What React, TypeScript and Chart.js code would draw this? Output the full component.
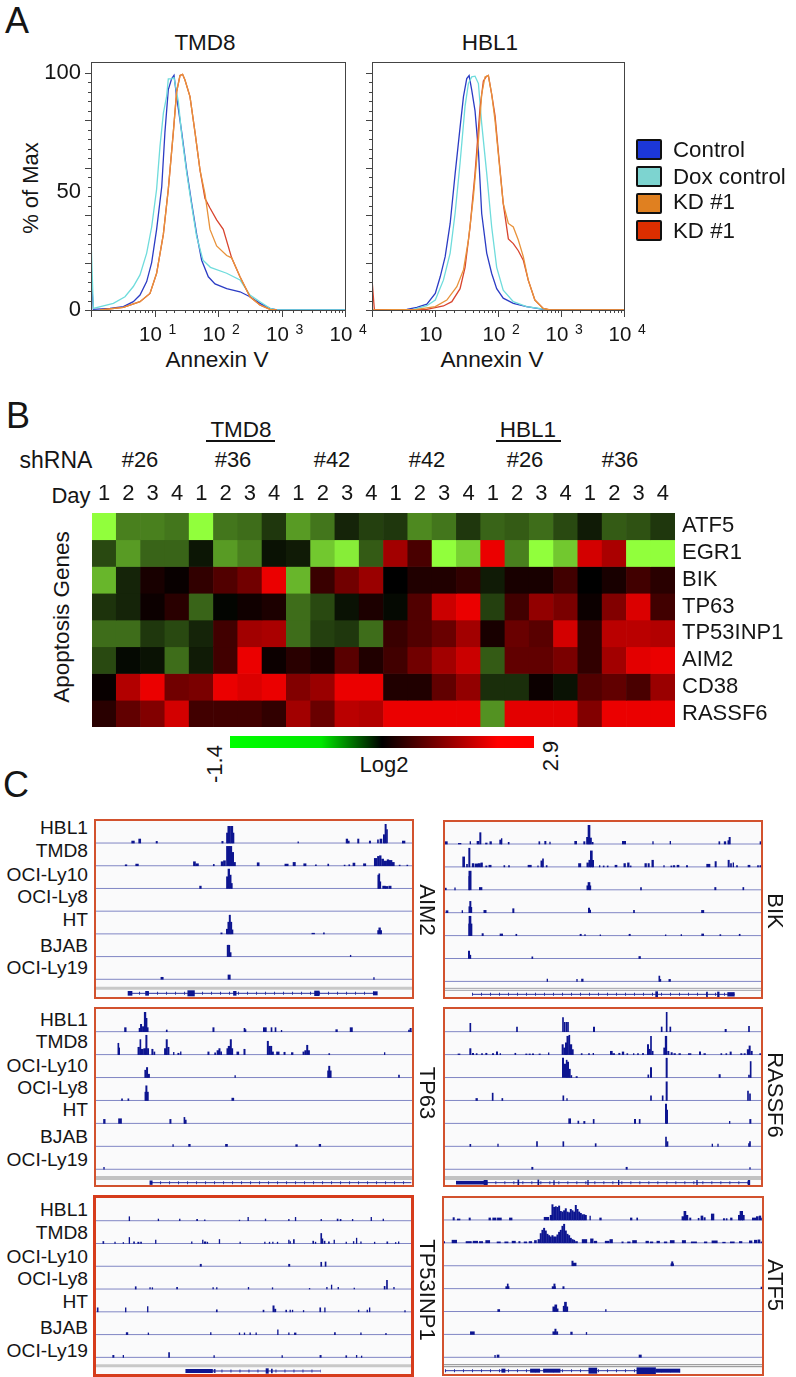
import React, { useEffect, useRef } from "react";
import { Chart, registerables } from "chart.js";

Chart.register(...registerables);

type Pt = number[];
const FONT = "'Liberation Sans', Arial, sans-serif";

/* ---------- Panel A: flow histograms, [Annexin V, % of max] ---------- */
const tmd8Control: Pt[] = [[1,16],[1.09,0.3],[1.99,0.7],[3.23,1.4],[4.64,3.5],[5.91,6.3],[7.53,12],[9.02,20],[10.8,34],[13,52],[14.6,75],[16.5,93],[18.6,97.5],[20.3,99],[22.3,90],[26.8,75],[32.1,59],[38.5,45],[46.1,32],[55.3,21],[70.4,14],[89.7,11],[137,9],[222,7.7],[319,5.6],[458,2.8],[659,0.7],[839,0],[10000,0]];
const tmd8Dox: Pt[] = [[1,30],[1.09,0.7],[2.25,2.8],[3.43,5.6],[4.64,9.9],[5.91,14.8],[7.53,24],[9.02,35],[10.8,51],[12.2,69],[13.8,83],[15.5,90],[16.5,97.5],[18.6,97.5],[20.3,98],[23.7,88],[26.8,74],[32.1,58],[38.5,44],[46.1,31],[58,21],[76,18],[137,15.5],[222,12.7],[319,6.3],[458,3.5],[659,0.7],[839,0],[10000,0]];
const tmd8KdA: Pt[] = [[1.39,0],[3.23,1.1],[5.91,3.5],[8.49,7],[10.8,15.5],[13.8,32],[16.5,51],[19.8,75],[22.3,92],[25.2,98.9],[27.7,99.4],[30.2,97],[36.2,90],[43.4,75],[52.1,59],[62.4,49],[74.8,34],[95.2,27],[137,23],[164,22],[222,14],[319,5.6],[458,2.1],[659,0.3],[839,0]];
const tmd8KdB: Pt[] = [[1.39,0],[3.23,1.1],[5.91,3.5],[8.49,7],[10.8,15.5],[13.8,32],[16.5,51],[19.8,75],[22.3,92],[25.2,98.9],[27.7,99.4],[30.2,97],[36.2,90],[43.4,75],[52.1,59],[62.4,47],[74.8,43],[95.2,38],[121,34],[164,22],[222,14],[319,5.6],[458,2.1],[659,0.3],[839,0]];
const hbl1Control: Pt[] = [[1,0.2],[3.58,0.3],[5.15,1.1],[7.43,2.5],[10.1,7],[12.1,14],[14.5,22.5],[17.4,36.5],[20.9,57.6],[25,77],[28.3,90],[31.9,97.6],[34.8,98.9],[38.3,92.7],[43.2,84],[48.9,67],[55.1,40.7],[66.2,24],[79.4,15.4],[95.3,9],[121,5],[175,2.8],[284,1.4],[522,0.3],[10000,0.1]];
const hbl1Dox: Pt[] = [[1,0.1],[4.57,0.3],[7.43,1.8],[10.1,4.2],[13.6,12.6],[17.4,24],[20.9,41],[25,62],[30,86],[33.9,95.5],[38.3,98.3],[43.2,98.6],[48.9,95.5],[55.1,78.6],[66.2,57.6],[79.4,35],[95.3,18],[121,8.4],[175,3.5],[284,1.4],[660,0],[10000,0]];
const hbl1KdA: Pt[] = [[1,0],[5.15,0.3],[10.1,1.4],[15.4,4.2],[22.2,9.8],[28.3,16.9],[33.9,29.5],[40.7,47.8],[48.9,71.6],[55.1,91],[62.2,98.3],[70.3,98.9],[79.4,91],[89.7,80],[101,66],[121,45],[146,36.5],[175,35],[210,29.5],[252,22.5],[302,12.6],[385,4.2],[522,0.7],[666,0],[10000,0]];
const hbl1KdB: Pt[] = [[1,13],[1.09,0.2],[7.43,0.3],[13.6,1.7],[18.5,3.5],[25,9],[30,18],[36,35],[43.2,57.6],[51.9,85.4],[58.6,96.6],[66.2,98.6],[70.3,98.9],[79.4,91],[89.7,82],[101,67],[121,45],[146,30],[175,28],[210,25],[252,21],[302,12.6],[385,4.2],[522,0.7],[666,0],[10000,0]];
const flowSeriesNames = ["KD #1 (a)", "KD #1 (b)", "Dox control", "Control"];
const legendNames = ["Control", "Dox control", "KD #1", "KD #1"];
const legendColors = ["#1c37d8", "#7dd4d0", "#e08020", "#dc2e00"];
const flowYTicks = [0,4,8,12,16,20,24,28,32,36,40,44,48,50,52,56,60,64,68,72,76,80,84,88,92,96,100];
const flowYLabels = [0, 50, 100];

/* ---------- Panel B: heat map, log2 expression ---------- */
const dayLabels = ["1","2","3","4","1","2","3","4","1","2","3","4","1","2","3","4","1","2","3","4","1","2","3","4"];
const geneNames = ["ATF5","EGR1","BIK","TP63","TP53INP1","AIM2","CD38","RASSF6"];
const atf5 = [-1.4,-0.7,-0.7,-0.65,-1.4,-0.65,-0.6,-0.3,-0.85,-0.65,-0.2,-0.35,-0.3,-0.75,-0.65,-0.3,-0.55,-0.5,-0.6,-0.4,-0.15,-0.5,-0.45,-0.3];
const egr1 = [-0.4,-0.85,-0.55,-0.55,-0.12,-0.85,-0.7,-0.1,-0.15,-1.1,-1.3,-0.5,2.0,0.9,-1.4,-1.15,2.9,-0.7,-1.4,-1.1,2.6,2.1,-1.4,-1.4];
const bik = [-1.0,-0.2,0.3,0.1,0.6,1.0,1.4,2.9,-1.0,0.7,1.4,1.9,0,0.4,0.4,0.6,-0.15,0.3,0.3,0.8,0,0.3,0.8,0.5];
const tp63 = [-0.28,-0.2,0.15,0.5,-0.55,-0.03,0.2,0.35,-0.6,-0.4,-0.1,0.35,-0.05,1.0,2.5,2.9,-0.35,0.8,1.8,1.5,0.15,1.6,2.7,0.8];
const tp53inp1 = [-0.6,-0.6,-0.3,-0.4,-0.2,0.8,2.0,2.1,-0.6,-0.35,-0.3,-0.6,0.7,1.0,1.3,2.0,0.3,1.3,1.1,2.6,0.6,2.3,2.3,2.2];
const aim2 = [-0.4,-0.05,-0.1,-0.6,-0.15,0.8,2.9,0.15,0.5,0.3,1.1,0.4,0.8,1.4,2.0,2.5,-0.5,1.2,1.2,1.5,0.6,2.0,2.8,2.9];
const cd38 = [0.1,2.2,2.9,1.4,1.5,2.9,2.7,2.9,1.6,1.9,2.9,2.9,0.4,0.4,1.2,1.8,-0.25,-0.25,0.15,-0.1,1.0,1.2,0.9,1.9];
const rassf6 = [0.5,1.2,1.6,2.6,0.8,0.8,0.8,0.6,2.0,1.3,2.3,2.2,2.9,2.9,2.9,2.9,-0.8,2.8,2.8,2.8,1.6,2.9,2.9,2.9];
const heatRows = [atf5, egr1, bik, tp63, tp53inp1, aim2, cd38, rassf6];
const colorRange = [-1.4, 2.9];

/* ---------- Panel C: read-depth tracks, [position, height, width] ---------- */
const trackNames = ["HBL1","TMD8","OCI-Ly10","OCI-Ly8","HT","BJAB","OCI-Ly19"];
const aim2Tracks: Pt[][] = [
  [[398,6,8],[418,12,6],[469,5,4],[666,5,4],[680,30,4],[686,50,8],[694,50,6],[699,30,3],[893,4,2],[1039,12,5],[1044,6,4],[1073,12,4],[1108,6,4],[1132,10,3],[1141,12,6],[1150,25,4],[1155,56,4],[1159,40,3],[1209,6,8]],
  [[377,3,5],[410,5,8],[582,12,6],[590,6,8],[640,4,3],[665,12,6],[672,15,6],[682,58,8],[690,58,8],[697,40,5],[703,10,4],[773,9,6],[858,5,10],[881,10,7],[913,6,7],[946,3,3],[983,5,3],[1032,2,3],[1046,3,3],[1060,8,6],[1092,6,7],[1125,22,8],[1133,28,5],[1139,30,5],[1146,20,6],[1154,14,8],[1162,18,5],[1170,16,8],[1178,10,6],[1197,2,3],[1220,2,3]],
  [[600,7,5],[680,35,4],[685,58,5],[690,40,4],[694,15,3],[1133,40,3],[1136,44,3],[1139,20,3],[1150,7,8],[1158,6,8],[1168,7,7]],
  [],
  [[663,3,4],[680,14,5],[684,35,4],[688,56,4],[692,35,4],[696,12,3],[938,2,8],[970,3,3],[1133,10,4],[1137,18,5],[1141,10,4]],
  [[682,34,4],[686,34,4],[690,12,4],[1050,4,2]],
  [[485,6,7],[686,13,7],[1120,5,2]],
];
const bikTracks: Pt[][] = [
  [[50,7,6],[90,2,8],[122,7,2],[145,8,6],[152,34,4],[170,3,5],[183,7,5],[213,12,6],[216,16,2],[237,5,3],[329,7,3],[347,8,4],[361,6,2],[438,8,6],[464,7,4],[473,20,5],[478,56,6],[483,18,5],[489,5,3],[583,8,10],[670,7,2],[722,8,2],[869,7,3],[886,7,5],[896,10,3],[900,20,4],[993,7,4]],
  [[102,30,6],[112,8,3],[119,56,4],[130,10,5],[140,9,8],[149,10,7],[156,12,5],[170,3,4],[181,5,7],[224,4,3],[238,4,3],[300,5,10],[325,3,2],[336,18,5],[340,24,3],[351,4,3],[450,10,7],[474,12,5],[480,20,5],[485,48,6],[490,20,4],[510,4,2],[522,3,3],[534,3,3],[559,5,6],[585,10,5],[596,12,5],[603,3,3],[648,10,5],[657,10,4],[669,20,5],[703,4,2],[725,3,3],[733,4,5],[745,5,6],[772,4,4],[836,8,10],[858,16,4],[897,20,4],[904,10,3],[911,12,2],[922,4,3],[958,5,6],[985,4,3],[992,4,3]],
  [[48,5,4],[76,6,2],[119,40,3],[121,56,7],[153,7,8],[473,12,3],[478,22,6],[482,12,3],[634,7,3],[857,7,4],[941,7,3]],
  [[52,6,6],[98,6,2],[120,18,5],[122,34,4],[125,16,3],[166,7,7],[251,12,4],[478,14,4],[481,8,4],[613,7,3],[819,7,7]],
  [[120,35,6],[121,58,6],[125,35,4],[159,6,4],[215,5,8],[260,4,3],[453,4,4],[466,3,2],[512,2,2],[600,4,4],[708,2,2],[755,3,2],[819,5,6],[872,3,3],[930,4,3]],
  [[118,22,4],[122,10,3],[308,5,3],[630,6,5]],
  [[353,7,2],[442,6,2],[458,7,5],[689,16,3],[692,6,3],[720,6,5]],
];
const tp63Tracks: Pt[][] = [
  [[375,12,5],[418,10,4],[422,22,4],[428,15,4],[434,58,5],[438,40,4],[442,12,3],[499,5,3],[639,12,4],[732,10,3],[735,6,3],[793,12,9],[813,12,3],[825,12,3],[843,4,2],[1008,6,5],[1052,12,7],[1225,5,3],[1230,10,4]],
  [[354,34,3],[356,20,4],[415,22,5],[420,45,3],[425,16,8],[433,18,6],[438,58,4],[443,18,4],[456,16,4],[462,8,3],[495,18,6],[499,45,4],[504,22,4],[520,7,2],[534,4,4],[541,8,2],[624,8,4],[644,5,3],[652,12,5],[657,18,4],[662,8,3],[681,18,4],[686,25,6],[691,45,4],[695,18,4],[712,8,6],[732,16,4],[802,40,4],[807,25,5],[812,25,4],[817,8,4],[832,8,8],[852,7,4],[875,6,5],[909,8,4],[915,12,5],[920,28,4],[925,12,4],[986,3,3],[1152,6,2]],
  [[435,22,4],[440,30,4],[445,10,5],[704,6,2],[983,20,4],[986,34,4],[990,20,4],[1195,7,3]],
  [[365,5,3],[384,5,3],[435,25,3],[438,44,4],[442,25,4],[697,7,6]],
  [[312,12,5],[359,14,9],[510,12,4],[552,18,3],[555,10,5]],
  [[518,5,2],[567,6,5],[678,6,6],[888,5,5],[958,6,5]],
  [[311,6,2]],
];
const rassf6Tracks: Pt[][] = [
  [[122,25,3],[262,14,3],[400,42,3],[405,28,2],[410,28,3],[415,28,3],[493,14,4],[696,14,3],[711,58,3],[722,14,3],[888,7,4],[958,16,3]],
  [[88,2,6],[122,18,4],[130,4,4],[141,3,3],[157,3,3],[170,4,4],[190,3,4],[202,8,4],[212,3,2],[257,4,3],[290,2,4],[300,2,4],[310,2,4],[330,2,4],[357,5,2],[399,30,4],[404,20,4],[409,35,4],[414,55,5],[419,58,3],[424,30,5],[429,15,4],[456,3,3],[478,3,3],[491,4,2],[545,10,6],[552,3,6],[569,4,4],[580,8,5],[593,3,3],[612,3,2],[625,3,3],[640,4,3],[655,30,4],[660,16,4],[664,55,3],[669,10,3],[704,20,4],[709,55,5],[716,10,4],[726,6,4],[735,3,5],[750,3,5],[780,3,8],[811,8,4],[825,3,5],[875,3,3],[890,3,3],[903,8,4],[935,3,4],[945,3,4],[955,15,5],[960,26,4],[966,10,4],[992,3,4]],
  [[400,58,4],[406,40,4],[411,52,3],[415,46,4],[420,25,4],[425,6,3],[441,3,4],[656,8,3],[664,30,4],[711,58,4],[870,9,4],[958,7,3],[963,48,3]],
  [[141,6,5],[189,22,3],[218,6,3],[401,14,3],[412,6,2],[664,14,3],[699,14,3],[711,56,4],[955,28,3],[961,20,3]],
  [[420,14,6],[446,7,3],[464,6,4],[492,12,3],[616,12,4],[630,12,3],[709,58,4],[712,40,4],[900,6,2],[962,12,4]],
  [[122,6,3],[205,7,2],[322,14,3],[401,14,3],[498,8,3],[709,28,3],[713,14,4],[848,7,2],[865,7,2],[958,8,3],[961,14,3]],
  [[308,6,4],[591,6,4],[961,5,2]],
];
const tp53Tracks: Pt[][] = [
  [[388,12,2],[475,5,2],[539,5,2],[591,4,3],[614,3,2],[718,2,2],[744,10,2],[796,5,2],[866,4,2],[886,10,2],[963,4,2],[1012,5,3],[1021,4,3],[1057,4,2],[1113,10,2],[1149,5,2]],
  [[310,6,3],[345,4,2],[370,3,2],[388,18,2],[402,5,3],[415,4,4],[423,4,3],[467,10,2],[575,5,2],[608,10,2],[615,5,5],[622,4,2],[658,12,2],[720,4,2],[794,4,2],[808,4,2],[818,4,2],[832,4,2],[866,10,2],[870,6,2],[881,12,3],[939,7,3],[946,4,2],[963,30,3],[967,14,2],[973,7,3],[986,5,3],[1002,10,2],[1038,4,2],[1060,6,2],[1069,16,2],[1082,5,2],[1123,4,2],[1161,5,3],[1186,3,2],[1195,5,2]],
  [[602,6,4],[867,6,4],[963,12,3],[976,13,3]],
  [[407,7,3],[450,4,2],[457,4,2],[531,5,3],[639,4,2],[650,4,2],[745,5,2],[817,4,2],[928,2,2],[980,5,2],[994,12,2],[1014,5,2],[1062,3,2],[1153,8,3],[1160,26,3],[1181,5,2]],
  [[293,12,3],[377,12,2],[443,16,2],[650,6,3],[790,5,3],[820,18,4],[825,8,4],[858,5,3],[870,5,2],[877,5,2],[910,4,2],[960,12,3],[974,12,2],[1075,5,2],[1101,5,2],[1108,12,2],[1214,4,2]],
  [[381,6,5],[445,5,2],[632,6,2],[718,5,2],[733,5,2],[750,5,2],[768,5,2],[833,14,2],[866,5,2],[885,5,5],[1004,6,3],[1082,5,2],[1157,4,2]],
  [[340,6,4],[370,6,2],[507,14,3],[642,5,2],[846,5,2],[961,6,4],[1038,5,3],[1069,6,2],[1084,4,2],[1233,4,2]],
];
const atf5Tracks: Pt[][] = [
  [[70,7,4],[85,3,8],[118,6,4],[178,6,5],[192,6,10],[207,6,12],[241,6,8],[348,8,14],[362,14,6],[366,46,4],[371,38,4],[376,40,4],[381,38,4],[386,42,4],[391,26,4],[396,24,4],[401,28,4],[406,34,4],[411,24,4],[416,22,4],[421,32,4],[426,28,4],[431,24,4],[436,44,4],[441,32,4],[446,24,4],[451,20,4],[456,16,4],[461,16,4],[466,14,4],[479,12,2],[510,6,5],[602,6,5],[620,6,3],[757,10,6],[763,26,6],[769,14,6],[779,6,4],[804,5,3],[814,12,6],[822,7,4],[846,18,8],[880,4,4],[888,4,3],[902,6,5],[926,14,6],[932,26,8],[938,14,6],[970,6,10],[980,10,6],[988,12,5],[994,6,3]],
  [[42,4,2],[72,8,14],[115,4,16],[135,5,14],[152,4,10],[172,7,12],[205,3,10],[228,3,10],[250,5,10],[267,4,4],[285,3,8],[300,4,8],[315,7,6],[325,10,5],[331,28,4],[336,38,4],[341,44,4],[346,36,4],[351,26,4],[356,22,4],[361,18,4],[366,22,4],[371,18,4],[376,18,4],[381,24,4],[386,32,4],[391,38,4],[396,50,4],[401,56,4],[406,36,4],[411,26,4],[416,22,4],[421,14,4],[426,10,4],[431,8,4],[438,4,6],[462,10,14],[484,12,8],[495,5,8],[530,5,12],[542,10,8],[576,3,4],[595,3,8],[612,7,12],[650,5,8],[663,3,8],[683,5,8],[705,3,8],[725,7,12],[760,7,10],[790,3,16],[825,3,8],[852,6,16],[880,2,8],[905,3,12],[930,4,8],[960,6,8],[975,8,8],[985,9,6],[993,3,4]],
  [[426,14,4],[432,8,10],[725,12,4],[725,6,8]],
  [[232,14,3],[231,6,10],[372,14,4],[370,6,10],[399,6,4],[992,5,2]],
  [[205,6,6],[370,14,6],[376,20,6],[381,8,4],[400,16,4],[405,28,6],[410,14,4],[526,6,2]],
  [[126,8,12],[370,8,6],[375,16,4],[380,8,4],[423,7,5],[468,6,2]],
  [[194,6,2],[203,7,6],[629,7,7]],
];
const aim2Exons: Pt[] = [[389,12,12],[440,12,9],[572,16,20],[703,12,8],[949,14,14],[1124,10,12]];
const bikExons: Pt[] = [[681,16,6],[832,14,3],[866,14,5],[904,11,20]];
const tp63Exons: Pt[] = [[452,11,7]];
const rassf6Exons: Pt[] = [[125,9,90],[168,14,10],[266,16,3],[326,16,3],[373,12,2],[475,14,2],[567,14,2],[802,14,2],[958,14,5]];
const tp53Exons: Pt[] = [[597,10,80],[644,10,2],[801,14,7],[815,11,3]];
const atf5Exons: Pt[] = [[219,10,10],[314,10,28],[364,10,50],[487,16,24],[647,18,56],[712,10,72]];

/* ---------- helpers ---------- */
function heatColor(v: number) {
  if (v < 0) {
    const f = Math.min(1, -v / 1.4);
    return `rgb(${Math.round(145 * f)},${Math.round(255 * f)},${Math.round(60 * f)})`;
  }
  const f = Math.min(1, v / 2.9);
  return `rgb(${Math.round(235 * f)},0,0)`;
}

const noPad = (s: any) => {
  s.paddingTop = 0;
  s.paddingBottom = 0;
  s.paddingLeft = 0;
  s.paddingRight = 0;
};

function ChartCanvas({ left, top, width, height, config }: any) {
  const ref = useRef<HTMLCanvasElement>(null);
  useEffect(() => {
    const chart = new Chart(ref.current as HTMLCanvasElement, config);
    return () => chart.destroy();
  }, []);
  return (
    <canvas
      ref={ref}
      width={width}
      height={height}
      style={{ position: "absolute", left, top, width, height, display: "block" }}
    />
  );
}

function T({ x, y, size = 22, anchor = "c", rotate = 0, children, weight }: any) {
  const tx = anchor === "r" ? "-100%" : anchor === "l" ? "0" : "-50%";
  return (
    <div
      style={{
        position: "absolute",
        left: x,
        top: y,
        fontSize: size,
        lineHeight: 1,
        fontFamily: FONT,
        color: "#151515",
        whiteSpace: "nowrap",
        fontWeight: weight,
        transform: `translate(${tx},-50%) rotate(${rotate}deg)`,
      }}
    >
      {children}
    </div>
  );
}

const flowTicksPlugin = (sups: string[]) => ({
  id: "flowTicks",
  afterDraw(chart: any) {
    const { ctx, chartArea: a, scales } = chart;
    ctx.save();
    ctx.strokeStyle = "#444";
    ctx.lineWidth = 1;
    ctx.strokeRect(a.left + 0.5, a.top + 0.5, a.right - a.left, a.bottom - a.top);
    ctx.beginPath();
    scales.x.ticks.forEach((t: any) => {
      const p = Math.round(scales.x.getPixelForValue(t.value)) + 0.5;
      const major = Math.abs(Math.log10(t.value) - Math.round(Math.log10(t.value))) < 1e-6;
      ctx.moveTo(p, a.bottom);
      ctx.lineTo(p, a.bottom + (major ? 7 : 3));
    });
    scales.y.ticks.forEach((t: any) => {
      if (t.value === 50) return;
      const p = Math.round(scales.y.getPixelForValue(t.value)) + 0.5;
      ctx.moveTo(a.left, p);
      ctx.lineTo(a.left - (t.value % 20 === 0 ? 6 : 3), p);
    });
    ctx.stroke();
    ctx.fillStyle = "#151515";
    ctx.font = `14px ${FONT}`;
    ctx.textAlign = "center";
    ctx.textBaseline = "middle";
    [10, 100, 1000, 10000].forEach((v, i) => {
      if (sups[i]) ctx.fillText(sups[i], scales.x.getPixelForValue(v) + 18, a.bottom + 20);
    });
    ctx.restore();
  },
});

function flowConfig(series: Pt[][], sups: string[], showY: boolean, yWidth: number) {
  const colors = ["#e8923a", "#d8442e", "#6fdcdc", "#2b3cc4"];
  return {
    type: "line",
    data: {
      datasets: series.map((s, i) => ({
        label: flowSeriesNames[i],
        data: s.map((p) => ({ x: p[0], y: p[1] })),
        borderColor: colors[i],
        borderWidth: 1.3,
        pointRadius: 0,
        tension: 0,
        fill: false,
      })),
    },
    options: {
      responsive: false,
      animation: false,
      layout: { padding: { top: 2, right: 40 } },
      plugins: { legend: { display: false }, tooltip: { enabled: false }, title: { display: false } },
      scales: {
        x: {
          type: "logarithmic",
          min: 1,
          max: 10000,
          grid: { display: false, drawTicks: false },
          border: { display: false },
          afterFit: (s: any) => { noPad(s); s.height = 40; },
          ticks: {
            autoSkip: false,
            maxRotation: 0,
            padding: 13,
            labelOffset: -4,
            color: "#151515",
            font: { family: FONT, size: 20.5 },
            callback: (v: number) =>
              v >= 10 && Math.abs(Math.log10(v) - Math.round(Math.log10(v))) < 1e-6 ? "10" : "",
          },
        },
        y: {
          type: "linear",
          min: 0,
          max: 104.6,
          grid: { display: false, drawTicks: false },
          border: { display: false },
          afterFit: (s: any) => { noPad(s); s.width = yWidth; },
          afterBuildTicks: (s: any) => { s.ticks = flowYTicks.map((value) => ({ value })); },
          ticks: {
            autoSkip: false,
            padding: 10,
            color: "#151515",
            font: { family: FONT, size: 22 },
            callback: (v: number) => (showY && flowYLabels.includes(v) ? String(v) : ""),
          },
        },
      },
    },
    plugins: [flowTicksPlugin(sups)],
  };
}

const heatConfig: any = {
  type: "bar",
  data: {
    labels: dayLabels,
    datasets: heatRows.map((row, i) => ({
      label: geneNames[i],
      data: row.map(() => [i, i + 1]),
      backgroundColor: row.map(heatColor),
      borderWidth: 0,
      barPercentage: 1,
      categoryPercentage: 1,
      grouped: false,
    })),
  },
  options: {
    responsive: false,
    animation: false,
    layout: { padding: { left: 0, bottom: 1 } },
    plugins: { legend: { display: false }, tooltip: { enabled: false } },
    scales: {
      x: {
        position: "top",
        grid: { display: false, drawTicks: false },
        border: { display: false },
        afterFit: (s: any) => { noPad(s); s.height = 32; },
        ticks: { autoSkip: false, maxRotation: 0, padding: 6, color: "#151515", font: { family: FONT, size: 22 } },
      },
      y: {
        type: "linear",
        position: "right",
        reverse: true,
        min: 0,
        max: 8,
        grid: { display: false, drawTicks: false },
        border: { display: false },
        afterFit: (s: any) => { noPad(s); s.width = 121; },
        afterBuildTicks: (s: any) => { s.ticks = geneNames.map((_, i) => ({ value: i + 0.5 })); },
        ticks: {
          autoSkip: false,
          padding: 7,
          color: "#151515",
          font: { family: FONT, size: 22 },
          callback: (v: number) => geneNames[Math.floor(v)],
        },
      },
    },
  },
};

const colorbarConfig: any = {
  type: "bar",
  data: {
    labels: ["Log2"],
    datasets: [
      {
        data: [colorRange],
        barPercentage: 1,
        categoryPercentage: 1,
        backgroundColor: (c: any) => {
          const a = c.chart.chartArea;
          if (!a) return "#000";
          const g = c.chart.ctx.createLinearGradient(a.left, 0, a.right, 0);
          g.addColorStop(0, "#00ff00");
          g.addColorStop(0.3, "#00e800");
          g.addColorStop(0.5, "#000000");
          g.addColorStop(0.88, "#ff0000");
          g.addColorStop(1, "#ff0000");
          return g;
        },
      },
    ],
  },
  options: {
    indexAxis: "y",
    responsive: false,
    animation: false,
    plugins: { legend: { display: false }, tooltip: { enabled: false } },
    scales: {
      x: { display: false, min: colorRange[0], max: colorRange[1] },
      y: { display: false },
    },
  },
};

function igvConfig(p: any) {
  const navy = "#0d1590";
  const datasets: any[] = [];
  p.tracks.forEach((track: Pt[], i: number) => {
    const b = p.firstBase + i * p.step;
    datasets.push({
      type: "line",
      order: 2,
      data: [{ x: p.x0, y: b }, { x: p.x1, y: b }],
      borderColor: "#8086c4",
      borderWidth: 1,
      pointRadius: 0,
    });
    const widths = Array.from(new Set(track.map((t) => t[2])));
    widths.forEach((w) => {
      datasets.push({
        type: "bar",
        order: 1,
        grouped: false,
        barThickness: w / 3,
        backgroundColor: navy,
        borderWidth: 0,
        data: track.filter((t) => t[2] === w).map((t) => ({ x: t[0], y: [b - t[1], b] })),
      });
    });
  });
  p.rules.forEach((y: number) => {
    datasets.push({
      type: "line",
      order: 2,
      data: [{ x: p.x0, y }, { x: p.x1, y }],
      borderColor: p.ruleColor,
      borderWidth: p.ruleWidth,
      pointRadius: 0,
    });
  });
  datasets.push({
    type: "line",
    order: 3,
    data: [{ x: p.intron[0], y: p.geneY }, { x: p.intron[1], y: p.geneY }],
    borderColor: "#2a32a0",
    borderWidth: 1,
    pointRadius: 0,
  });
  datasets.push({
    type: "line",
    order: 3,
    data: [{ x: p.intron[0], y: p.geneY }, { x: p.intron[1], y: p.geneY }],
    borderColor: "#2a32a0",
    borderWidth: 3,
    borderDash: [1, 8],
    pointRadius: 0,
  });
  Array.from(new Set(p.exons.map((t: Pt) => t[2]))).forEach((w: any) => {
    datasets.push({
      type: "bar",
      order: 1,
      grouped: false,
      barThickness: w / 3,
      backgroundColor: navy,
      borderWidth: 0,
      data: p.exons
        .filter((t: Pt) => t[2] === w)
        .map((t: Pt) => ({ x: t[0], y: [p.geneY - t[1] / 2, p.geneY + t[1] / 2] })),
    });
  });
  return {
    type: "bar",
    data: { datasets },
    options: {
      responsive: false,
      animation: false,
      plugins: { legend: { display: false }, tooltip: { enabled: false } },
      scales: {
        x: { type: "linear", display: false, offset: false, min: p.x0, max: p.x1 },
        y: { type: "linear", display: false, reverse: true, min: p.y0, max: p.y1 },
      },
    },
  };
}

const igvPanels = [
  { name: "AIM2", tracks: aim2Tracks, exons: aim2Exons, ox: 0, oy: 810, x0: 281, x1: 1240, y0: 28, y1: 567, firstBase: 100, step: 68, rules: [535], ruleColor: "#c8c8c8", ruleWidth: 3, geneY: 550, intron: [389, 1124], border: 2, labelX: 427, labelY: 910 },
  { name: "BIK", tracks: bikTracks, exons: bikExons, ox: 430, oy: 810, x0: 40, x1: 1000, y0: 30, y1: 567, firstBase: 102, step: 68.7, rules: [535, 541], ruleColor: "#a0a0a8", ruleWidth: 1, geneY: 553, intron: [127, 915], border: 2, labelX: 775, labelY: 911 },
  { name: "TP63", tracks: tp63Tracks, exons: tp63Exons, ox: 0, oy: 1000, x0: 281, x1: 1240, y0: 20, y1: 560, firstBase: 94, step: 68.8, rules: [530, 536], ruleColor: "#8a8a8a", ruleWidth: 1, geneY: 547, intron: [452, 1232], border: 2, labelX: 427, labelY: 1093 },
  { name: "RASSF6", tracks: rassf6Tracks, exons: rassf6Exons, ox: 430, oy: 1000, x0: 40, x1: 1000, y0: 20, y1: 560, firstBase: 94, step: 68.8, rules: [530, 536], ruleColor: "#8a8a8a", ruleWidth: 1, geneY: 547, intron: [170, 960], border: 2, labelX: 775, labelY: 1095 },
  { name: "TP53INP1", tracks: tp53Tracks, exons: tp53Exons, ox: 0, oy: 1187, x0: 279, x1: 1241, y0: 25, y1: 570, firstBase: 102, step: 68.2, rules: [536], ruleColor: "#c8c8c8", ruleWidth: 3, geneY: 552, intron: [637, 962], border: 3, labelX: 427, labelY: 1290 },
  { name: "ATF5", tracks: atf5Tracks, exons: atf5Exons, ox: 430, oy: 1187, x0: 35, x1: 1000, y0: 28, y1: 569, firstBase: 100, step: 68.8, rules: [535, 541], ruleColor: "#8a8a8a", ruleWidth: 1, geneY: 553, intron: [44, 748], border: 2, labelX: 775, labelY: 1285 },
];

const trackLabelYs = [
  [828, 851, 875, 897, 920, 946, 968],
  [1020, 1042, 1066, 1088, 1110, 1137, 1160],
  [1210, 1233, 1257, 1279, 1302, 1328, 1351],
];

export default function App() {
  return (
    <div style={{ position: "absolute", left: 0, top: 0, width: 796, height: 1377, background: "#fff", overflow: "hidden" }}>
      {/* Panel A */}
      <T x={17} y={21} size={36}>A</T>
      <T x={205} y={43} size={22.5}>TMD8</T>
      <T x={490} y={43} size={22.5}>HBL1</T>
      <T x={31} y={188} rotate={-90}>% of Max</T>
      <T x={217} y={360} size={22.6}>Annexin V</T>
      <T x={492} y={360} size={22.6}>Annexin V</T>
      <ChartCanvas left={40} top={60} width={345} height={290}
        config={flowConfig([tmd8KdA, tmd8KdB, tmd8Dox, tmd8Control], ["1", "2", "3", "4"], true, 51)} />
      <ChartCanvas left={340} top={60} width={324} height={290}
        config={flowConfig([hbl1KdA, hbl1KdB, hbl1Dox, hbl1Control], ["", "2", "3", "4"], false, 32)} />
      {legendNames.map((n, i) => (
        <React.Fragment key={i}>
          <div style={{ position: "absolute", left: 636, top: [139, 166, 193, 220][i], width: 26, height: 21, boxSizing: "border-box", border: "2px solid #111", borderRadius: 2, background: legendColors[i] }} />
          <T x={673} y={[150, 177, 202, 231][i]} size={22.3} anchor="l">{n}</T>
        </React.Fragment>
      ))}

      {/* Panel B */}
      <T x={18} y={416} size={36}>B</T>
      <T x={241} y={430} size={22.5}>TMD8</T>
      <div style={{ position: "absolute", left: 206, top: 440, width: 69, height: 2, background: "#111" }} />
      <T x={528} y={430} size={22.5}>HBL1</T>
      <div style={{ position: "absolute", left: 496, top: 440, width: 65, height: 2, background: "#111" }} />
      <T x={56} y={460} size={23}>shRNA</T>
      {[["#26", 140], ["#36", 233], ["#42", 332], ["#42", 427], ["#26", 525], ["#36", 620]].map(([s, x], i) => (
        <T key={i} x={x} y={460}>{s}</T>
      ))}
      <T x={71} y={496}>Day</T>
      <T x={62} y={617} size={22.5} rotate={-90}>Apoptosis Genes</T>
      <ChartCanvas left={92} top={481} width={704} height={247} config={heatConfig} />
      <ChartCanvas left={230} top={736} width={304} height={12} config={colorbarConfig} />
      <T x={215} y={764} rotate={-90}>-1.4</T>
      <T x={551} y={756} rotate={-90}>2.9</T>
      <T x={384} y={765}>Log2</T>

      {/* Panel C */}
      <T x={16} y={785} size={36}>C</T>
      {trackLabelYs.map((ys, g) =>
        ys.map((y, i) => (
          <T key={`${g}-${i}`} x={88} y={y} size={19.2} anchor="r">{trackNames[i]}</T>
        ))
      )}
      {igvPanels.map((p) => {
        const left = Math.round(p.ox + p.x0 / 3);
        const top = Math.round(p.oy + p.y0 / 3);
        const width = Math.round((p.x1 - p.x0) / 3);
        const height = Math.round((p.y1 - p.y0) / 3);
        return (
          <React.Fragment key={p.name}>
            <div style={{ position: "absolute", left, top, width, height, background: "#fafafb" }} />
            <ChartCanvas left={left} top={top} width={width} height={height} config={igvConfig(p)} />
            <div style={{ position: "absolute", left, top, width, height, boxSizing: "border-box", border: `${p.border}px solid ${p.border === 3 ? "#d63c1c" : "#d2522e"}` }} />
            <T x={p.labelX} y={p.labelY} rotate={90}>{p.name}</T>
          </React.Fragment>
        );
      })}
    </div>
  );
}
